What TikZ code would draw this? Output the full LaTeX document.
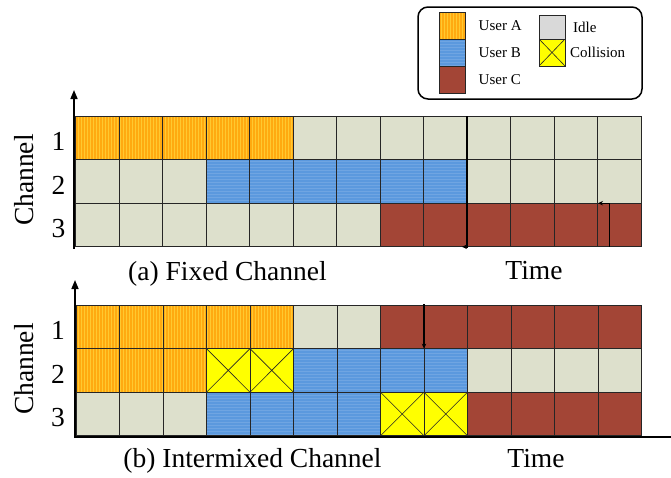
\documentclass[tikz,border=0pt]{standalone}
\usepackage{fontspec}
\setmainfont{Liberation Serif}
\definecolor{slotA}{HTML}{FFAA10}
\definecolor{slotB}{HTML}{5B99DE}
\definecolor{slotC}{HTML}{A34536}
\definecolor{slotIdle}{HTML}{DDE0CC}
\definecolor{slotHit}{HTML}{FFFF00}
\usetikzlibrary{arrows.meta, positioning, patterns}

\begin{document}
\begin{tikzpicture}[x=1pt, y=-1pt,
  cell/.style={draw=black!85, line width=0.7pt, minimum width=43.5pt,
    minimum height=43.6pt, inner sep=0pt, outer sep=0pt},
  usrA/.style={preaction={fill=slotA}, pattern=vertical lines, pattern color=slotA!75!yellow!85!white},
  usrB/.style={preaction={fill=slotB}, pattern=horizontal lines, pattern color=slotB!88!white},
  usrC/.style={fill=slotC}, idle/.style={fill=slotIdle},
  hit/.style={fill=slotHit, path picture={
    \draw[line width=0.6pt] (path picture bounding box.north west) -- (path picture bounding box.south east)
      (path picture bounding box.north east) -- (path picture bounding box.south west);}},
  swatch/.style={cell, minimum width=26pt, minimum height=27pt},
  big/.style={font=\fontsize{27.5}{30}\selectfont, inner sep=0pt},
  small/.style={font=\fontsize{15}{17}\selectfont, inner sep=0pt},
  axis/.style={line width=1.6pt},
  cue/.style={line width=1.4pt, -{Stealth[length=5pt, width=4.5pt]}}]
  \useasboundingbox (0,0) rectangle (671,477);

  \node[draw, line width=1.5pt, rounded corners=10pt, minimum width=224pt,
    minimum height=92pt] (lgd) at (530,53) {};
  \node[swatch, usrA] (swA) at (452.5,25.5) {};
  \node[swatch, usrB, below=0pt of swA] (swB) {};
  \node[swatch, usrC, below=0pt of swB] (swC) {};
  \node[swatch, fill=black!15, minimum height=24pt] (swI) at (552,27) {};
  \node[swatch, hit, below=0pt of swI] (swX) {};
  \node[small, right=13pt of swA] (tA) {User A};
  \node[small, right=13pt of swB] (tB) {User B};
  \node[small, right=13pt of swC] (tC) {User C};
  \node[small, right=8pt of swI] (tI) {Idle};
  \node[small, right=5pt of swX] (tX) {Collision};

  \foreach \k/\r/\from/\to in {usrA/1/0/4, idle/1/5/12, idle/2/0/2, usrB/2/3/8,
    idle/2/9/12, idle/3/0/6, usrC/3/7/12}
    \foreach \c in {\from,...,\to}
      \node[cell, \k] (fx-\r-\c) at ({97.25+43.5*\c}, {94.2+43.6*\r}) {};
  \foreach \k/\r/\from/\to in {usrA/1/0/4, idle/1/5/6, usrC/1/7/12, usrA/2/0/2,
    hit/2/3/4, usrB/2/5/8, idle/2/9/12, idle/3/0/2, usrB/3/3/6, hit/3/7/8, usrC/3/9/12}
    \foreach \c in {\from,...,\to}
      \node[cell, \k] (mx-\r-\c) at ({97.75+43.5*\c}, {283.2+43.6*\r}) {};

  \foreach \r in {1,2,3} {
    \node[big, left=10pt of fx-\r-0, yshift=-4pt] (fr\r) {\r};
    \node[big, left=11pt of mx-\r-0, yshift=-4pt] (mr\r) {\r};
  }

  \coordinate (fxO) at (74,248.5);
  \coordinate (fxT) at (74,90);
  \coordinate (mxT) at (75,280);
  \coordinate (mxO) at (75,437);
  \coordinate (mxE) at (671,437);
  \draw[axis, -{Triangle[length=9pt, width=7pt]}] (fxO) -- (fxT);
  \draw[axis, {Triangle[length=9pt, width=7pt]}-] (mxT) -- (mxO) -- (mxE);

  \draw[cue] (fx-1-9.north west) -- (fx-3-9.south west) -- ++(-5,0);
  \draw[cue, line width=0.8pt] ([xshift=11.5pt]fx-3-12.south west)
    -- ([xshift=11.5pt]fx-3-12.north west) -- ([xshift=0.5pt]fx-3-12.north west);
  \draw[cue] ([yshift=1pt]mx-1-8.north west) -- (mx-2-8.north west);

  \node[big, rotate=90] (chA) at (24,180) {Channel};
  \node[big, rotate=90] (chB) at (24,369) {Channel};
  \node[big, anchor=base] (capA) at (227.5,280) {(a) Fixed Channel};
  \node[big, anchor=base] (tmA) at (534,279) {Time};
  \node[big, anchor=base] (capB) at (252.5,467) {(b) Intermixed Channel};
  \node[big, anchor=base] (tmB) at (536,467) {Time};
\end{tikzpicture}
\end{document}
